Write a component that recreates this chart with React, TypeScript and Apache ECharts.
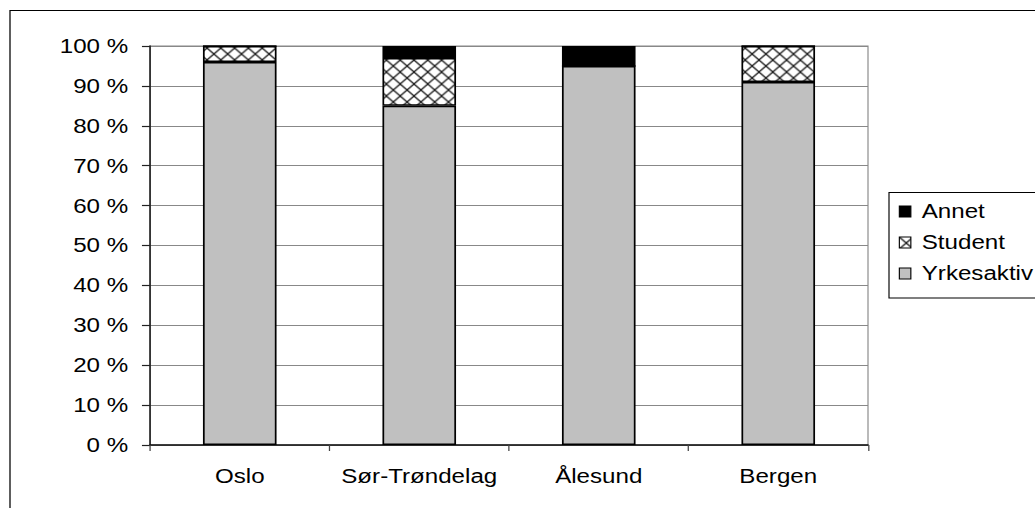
import React, { useEffect, useRef } from "react";
import * as echarts from "echarts";

const categories = ["Oslo", "Sør-Trøndelag", "Ålesund", "Bergen"];
const yrkesaktiv = [96, 85, 95, 91];
const student = [4, 12, 0, 9];
const annet = [0, 3, 5, 0];
const legendOrder = ["Annet", "Student", "Yrkesaktiv"];

const FONT = "'Liberation Sans', Arial, sans-serif";
const SX = 1.15; // horizontal stretch of the original picture
const W = 900;
const H = 508;

function makeHatch(): HTMLCanvasElement {
  const s = 12;
  const c = document.createElement("canvas");
  c.width = s;
  c.height = s;
  const ctx = c.getContext("2d")!;
  ctx.fillStyle = "#ffffff";
  ctx.fillRect(0, 0, s, s);
  ctx.strokeStyle = "#222222";
  ctx.lineWidth = 1.3;
  ctx.beginPath();
  ctx.moveTo(0, 0);
  ctx.lineTo(s, s);
  ctx.moveTo(s, 0);
  ctx.lineTo(0, s);
  ctx.stroke();
  return c;
}

export default function App() {
  const ref = useRef<HTMLDivElement>(null);
  useEffect(() => {
    if (!ref.current) return;
    const chart = echarts.init(ref.current, null, { renderer: "svg" });
    const hatch = makeHatch();
    const barBase = {
      type: "bar",
      stack: "total",
      barWidth: "41%",
      emphasis: { disabled: true },
    };
    chart.setOption({
      animation: false,
      backgroundColor: "#ffffff",
      textStyle: { fontFamily: FONT },
      grid: {
        left: 150 / SX,
        right: 167 / SX,
        top: 46,
        bottom: 63,
        show: true,
        borderColor: "#888888",
        borderWidth: 1,
        backgroundColor: "transparent",
      },
      legend: {
        data: legendOrder,
        orient: "vertical",
        left: 889 / SX,
        top: 192,
        padding: [9, 0, 14, 8.5],
        itemGap: 10,
        itemWidth: 10,
        itemHeight: 11,
        icon: "rect",
        borderWidth: 0,
        borderColor: "transparent",
        backgroundColor: "transparent",
        itemStyle: { borderColor: "#000000", borderWidth: 1 },
        textStyle: { fontFamily: FONT, fontSize: 21, color: "#000000", padding: [0, 0, 0, 4.5] },
      },
      xAxis: {
        type: "category",
        data: categories,
        axisLine: { lineStyle: { color: "#111111", width: 1.5 } },
        axisTick: { show: true, length: 6, lineStyle: { color: "#444444", width: 1.1 } },
        axisLabel: { fontFamily: FONT, fontSize: 21, color: "#000000", margin: 21, interval: 0 },
      },
      yAxis: {
        type: "value",
        min: 0,
        max: 100,
        interval: 10,
        axisLine: { show: true, lineStyle: { color: "#222222", width: 1.4 } },
        axisTick: { show: true, length: 7, lineStyle: { color: "#222222", width: 1.2 } },
        axisLabel: {
          fontFamily: FONT,
          fontSize: 21,
          color: "#000000",
          margin: 19,
          formatter: (v: number) => `${v} %`,
        },
        splitLine: { show: true, lineStyle: { color: "#888888", width: 1 } },
      },
      series: [
        {
          ...barBase,
          name: "Yrkesaktiv",
          data: yrkesaktiv,
          itemStyle: { color: "#c0c0c0", borderColor: "#000000", borderWidth: 1.5 },
        },
        {
          ...barBase,
          name: "Student",
          data: student,
          itemStyle: {
            color: { image: hatch, repeat: "repeat", imageWidth: 12, imageHeight: 12 },
            borderColor: "#000000",
            borderWidth: 1.5,
          },
        },
        {
          ...barBase,
          name: "Annet",
          data: annet,
          itemStyle: { color: "#000000", borderColor: "#000000", borderWidth: 1.5 },
        },
      ],
      graphic: [
        {
          type: "polyline",
          silent: true,
          z: 100,
          shape: {
            points: [
              [1200, 10.5],
              [10 / SX, 10.5],
              [10 / SX, 700],
            ],
          },
          style: { fill: "none", stroke: "#000000", lineWidth: 1.1 },
        },
        {
          type: "polyline",
          silent: true,
          z: 100,
          shape: {
            points: [
              [1200, 192.5],
              [889 / SX, 192.5],
              [889 / SX, 298],
              [1200, 298],
            ],
          },
          style: { fill: "none", stroke: "#000000", lineWidth: 1 },
        },
      ],
    });
    return () => chart.dispose();
  }, []);
  return (
    <div style={{ position: "absolute", left: 0, top: 0, width: 1035, height: H, overflow: "hidden" }}>
      <div
        ref={ref}
        style={{ width: W, height: H, overflow: "hidden", transform: `scaleX(${SX})`, transformOrigin: "left top" }}
      />
    </div>
  );
}
